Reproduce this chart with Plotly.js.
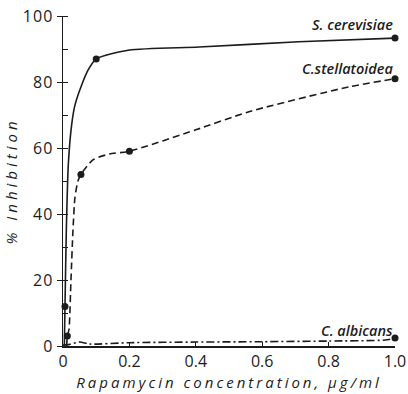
<!DOCTYPE html>
<html>
<head>
<meta charset="utf-8">
<script src="https://cdn.plot.ly/plotly-3.0.1.min.js"></script>
<style>
  html, body { margin: 0; padding: 0; background: #fff; }
  #chart { width: 408px; height: 394px; }
  /* wide, spaced lettering for titles and ticks */
  #chart .xtitle { letter-spacing: 3px; }
  #chart .ytitle { letter-spacing: 4px; }
  #chart .ytick text { letter-spacing: 1px; }
</style>
</head>
<body>
<div id="chart"></div>
<script>
// Rapamycin concentration (µg/ml) vs % inhibition, three yeast strains.

// S. cerevisiae: fitted curve and measured points
const cerevisiaeCurveX = [0.004, 0.006, 0.010, 0.016, 0.026, 0.036, 0.056, 0.075, 0.100, 0.200, 0.410, 0.710, 1.000];
const cerevisiaeCurveY = [0, 12, 35, 55, 67, 73, 79, 83.5, 87, 89.7, 90.6, 92.2, 93.3];
const cerevisiaePointX = [0.006, 0.1, 1.0];
const cerevisiaePointY = [12, 87, 93.3];

// C. stellatoidea: fitted curve and measured points
const stellatoideaCurveX = [0.011, 0.013, 0.018, 0.024, 0.030, 0.036, 0.045, 0.054, 0.090, 0.140, 0.200, 0.400, 0.560, 0.860, 1.000];
const stellatoideaCurveY = [0, 3, 5, 20, 35, 45, 50, 52, 56.4, 58.2, 59, 65.5, 71, 78.5, 81];
const stellatoideaPointX = [0.013, 0.054, 0.2, 1.0];
const stellatoideaPointY = [3, 52, 59, 81];

// C. albicans: fitted curve and measured point
const albicansCurveX = [0, 0.02, 0.05, 0.08, 0.2, 0.4, 0.6, 0.8, 0.97, 1.0];
const albicansCurveY = [0.3, 0.5, 1.2, 0.6, 1.0, 1.2, 1.3, 1.5, 1.8, 2.4];
const albicansPointX = [1.0];
const albicansPointY = [2.4];

// Axis ticks
const xTickVals = [0, 0.2, 0.4, 0.6, 0.8, 1.0];
const xTickText = ['0', '0.2', '0.4', '0.6', '0.8', '1.0'];
const yTickVals = [0, 20, 40, 60, 80, 100];
const yTickText = ['0', '20', '40', '60', '80', '100'];

// Strain labels
const strainNames = ['S. cerevisiae', 'C.stellatoidea', 'C. albicans'];
const strainLabelY = [97.5, 84, 4.6];

const ink = '#1c1c1c';
const labelFont = { family: 'Open Sans, sans-serif', size: 14.5, color: ink, style: 'italic', weight: 600 };

function curve(x, y, dash) {
  return {
    x: x, y: y, type: 'scatter', mode: 'lines',
    line: { color: ink, width: 1.6, dash: dash, shape: 'spline', smoothing: 0.6 },
    hoverinfo: 'skip', cliponaxis: false
  };
}
function dots(x, y) {
  return {
    x: x, y: y, type: 'scatter', mode: 'markers',
    marker: { color: ink, size: 7 },
    cliponaxis: false
  };
}

const traces = [
  curve(cerevisiaeCurveX, cerevisiaeCurveY, 'solid'),
  dots(cerevisiaePointX, cerevisiaePointY),
  curve(stellatoideaCurveX, stellatoideaCurveY, '7px,4px'),
  dots(stellatoideaPointX, stellatoideaPointY),
  curve(albicansCurveX, albicansCurveY, '8px,3px,2px,3px'),
  dots(albicansPointX, albicansPointY)
];

const annotations = strainNames.map((name, i) => ({
  text: name, x: 1.0, y: strainLabelY[i], xref: 'x', yref: 'y',
  xanchor: 'right', yanchor: 'middle', showarrow: false, font: labelFont
}));

const layout = {
  width: 408, height: 394,
  margin: { l: 63, r: 13, t: 16, b: 48 },
  paper_bgcolor: '#fff', plot_bgcolor: '#fff',
  showlegend: false,
  font: { family: 'Open Sans, sans-serif', size: 16, color: ink },
  xaxis: {
    range: [0, 1.0],
    tickvals: xTickVals, ticktext: xTickText,
    ticks: 'inside', ticklen: 4, tickwidth: 1, tickcolor: ink,
    ticklabeloverflow: 'allow',
    showline: true, linecolor: ink, linewidth: 1.5,
    showgrid: false, zeroline: false,
    tickfont: { size: 16, color: ink },
    title: { text: 'Rapamycin concentration, µg/ml', standoff: 2,
             font: { size: 15, color: ink, style: 'italic' } }
  },
  yaxis: {
    range: [0, 100],
    tickvals: yTickVals, ticktext: yTickText,
    ticks: 'outside', ticklen: 5, tickwidth: 1, tickcolor: ink,
    minor: { dtick: 10, tick0: 0, ticks: 'inside', ticklen: 5, tickcolor: ink, tickwidth: 1 },
    showline: true, linecolor: ink, linewidth: 1.5,
    showgrid: false, zeroline: false,
    tickfont: { size: 16, color: ink },
    title: { text: '% Inhibition', standoff: 4,
             font: { size: 15, color: ink, style: 'italic' } }
  },
  annotations: annotations
};

Plotly.newPlot('chart', traces, layout, { displayModeBar: false, staticPlot: true });
</script>
</body>
</html>
